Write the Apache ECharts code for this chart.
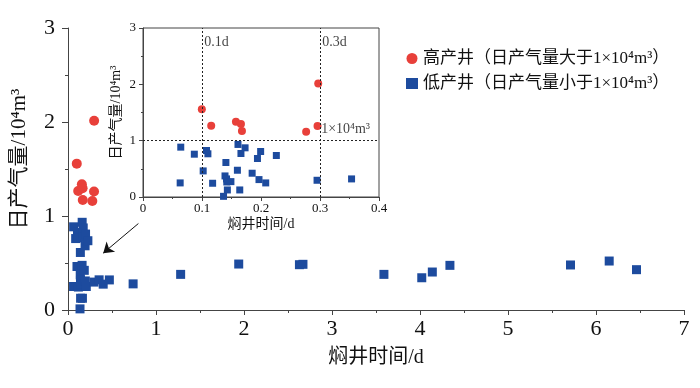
<!DOCTYPE html>
<html><head><meta charset="utf-8">
<script src="https://cdn.jsdelivr.net/npm/echarts@6/dist/echarts.min.js"></script>
<style>html,body{margin:0;padding:0;background:#fff}#c{width:700px;height:388px}</style>
</head><body><div id="c"></div>
<script>
// High-yield wells (x: shut-in time d, y: daily gas 10^4 m3)
const highWells = [[0.0997,1.557],[0.1156,1.266],[0.1575,1.337],[0.166,1.295],[0.1677,1.17],[0.2765,1.159],[0.297,2.014],[0.2958,1.26]];
// Low-yield wells within 0–0.4 d
const lowWells = [[0.064,0.885],[0.063,0.25],[0.087,0.76],[0.1076,0.826],[0.11,0.767],[0.102,0.463],[0.118,0.244],[0.1405,0.612],[0.139,0.374],[0.1416,0.321],[0.142,0.267],[0.149,0.273],[0.143,0.125],[0.1365,0.012],[0.161,0.933],[0.160,0.475],[0.164,0.125],[0.166,0.772],[0.173,0.873],[0.185,0.422],[0.194,0.683],[0.1994,0.808],[0.1966,0.309],[0.208,0.25],[0.226,0.737],[0.295,0.297],[0.3535,0.321]];
// Low-yield wells beyond 0.4 d (main chart only)
const lowWellsLong = [[0.40,0.275],[0.47,0.32],[0.74,0.278],[1.28,0.379],[1.94,0.489],[2.63,0.482],[2.67,0.486],[3.59,0.379],[4.02,0.343],[4.14,0.404],[4.34,0.475],[5.71,0.479],[6.15,0.521],[6.46,0.429]];
const refX = [0.1, 0.3];
const refY = [1];
const refLabels = [{value:[0.104,2.74], text:'0.1d'},{value:[0.304,2.74], text:'0.3d'},{value:[0.302,1.2], text:'1×10⁴m³'}];
const arrowFrom = [0.80, 0.92], arrowTo = [0.40, 0.605];
const nameHigh = '高产井（日产气量大于1×10⁴m³）';
const nameLow = '低产井（日产气量小于1×10⁴m³）';

const FF = "'Liberation Serif','Noto Sans CJK SC',serif";
const RED = '#e8403a', BLUE = '#1d4b9e', AX = '#444';

function axisCommon(fs, margin, tickLen, minorLen){
  return {
    axisLine:{show:true,lineStyle:{color:AX,width:1}},
    axisTick:{show:true,inside:false,length:tickLen,lineStyle:{color:AX}},
    minorTick:{show:true,splitNumber:2,length:minorLen,lineStyle:{color:AX}},
    splitLine:{show:false},
    axisLabel:{fontFamily:FF,fontSize:fs,color:'#111',margin:margin}
  };
}

const chart = echarts.init(document.getElementById('c'), null, {renderer:'canvas'});
chart.setOption({
  animation:false,
  backgroundColor:'#fff',
  textStyle:{fontFamily:FF},
  legend:{
    orient:'vertical', left:401, top:45, itemGap:8, itemWidth:12, itemHeight:11,
    textStyle:{fontFamily:FF,fontSize:17,color:'#111'},
    data:[{name:nameHigh,icon:'circle'},{name:nameLow,icon:'rect'}]
  },
  grid:[
    {left:68,right:16,top:28,bottom:78},
    {left:143,right:321,top:28,bottom:191,show:true,borderColor:AX,borderWidth:1,backgroundColor:'#fff'}
  ],
  xAxis:[
    Object.assign(axisCommon(22,8,5,3),{type:'value',gridIndex:0,min:0,max:7,interval:1,
      name:'焖井时间/d',nameLocation:'middle',nameGap:38,nameTextStyle:{fontFamily:FF,fontSize:20,color:'#111'}}),
    Object.assign(axisCommon(13,5,4,2),{type:'value',gridIndex:1,min:0,max:0.4,interval:0.1,
      axisLabel:{fontFamily:FF,fontSize:13,color:'#111',margin:5,formatter:v=>v===0?'0':v.toFixed(1)},
      name:'焖井时间/d',nameLocation:'middle',nameGap:20,nameTextStyle:{fontFamily:FF,fontSize:14,color:'#111'}})
  ],
  yAxis:[
    Object.assign(axisCommon(22,13,6,3),{type:'value',gridIndex:0,min:0,max:3,interval:1,
      name:'日产气量/10⁴m³',nameLocation:'middle',nameGap:38,nameTextStyle:{fontFamily:FF,fontSize:21,color:'#111',padding:[0,0,0,20]}}),
    Object.assign(axisCommon(13,7,4,2),{type:'value',gridIndex:1,min:0,max:3,interval:1,
      name:'日产气量/10⁴m³',nameLocation:'middle',nameGap:20,nameTextStyle:{fontFamily:FF,fontSize:14,color:'#111'}})
  ],
  series:[
    {type:'scatter',name:nameHigh,xAxisIndex:0,yAxisIndex:0,symbol:'circle',symbolSize:10,itemStyle:{color:RED,opacity:1},data:highWells},
    {type:'scatter',name:nameLow,xAxisIndex:0,yAxisIndex:0,symbol:'rect',symbolSize:9,itemStyle:{color:BLUE,opacity:1},
      data:lowWells.concat(lowWellsLong),
      markLine:{silent:true,symbol:['none','arrow'],symbolSize:10,label:{show:false},
        lineStyle:{color:'#111',width:1,type:'solid'},
        data:[[{coord:arrowFrom},{coord:arrowTo}]]}},
    {type:'scatter',name:nameHigh,xAxisIndex:1,yAxisIndex:1,symbol:'circle',symbolSize:8,itemStyle:{color:RED,opacity:1},data:highWells},
    {type:'scatter',name:nameLow,xAxisIndex:1,yAxisIndex:1,symbol:'rect',symbolSize:7,itemStyle:{color:BLUE,opacity:1},data:lowWells,
      markLine:{silent:true,symbol:['none','none'],label:{show:false},
        lineStyle:{color:'#222',width:1,type:[2,2]},
        data:refX.map(v=>({xAxis:v})).concat(refY.map(v=>({yAxis:v})))}},
    {type:'scatter',xAxisIndex:1,yAxisIndex:1,symbolSize:0,silent:true,
      label:{show:true,position:'right',distance:0,fontFamily:FF,fontSize:14,color:'#111',formatter:p=>p.data.text},
      data:refLabels}
  ]
});
</script></body></html>
